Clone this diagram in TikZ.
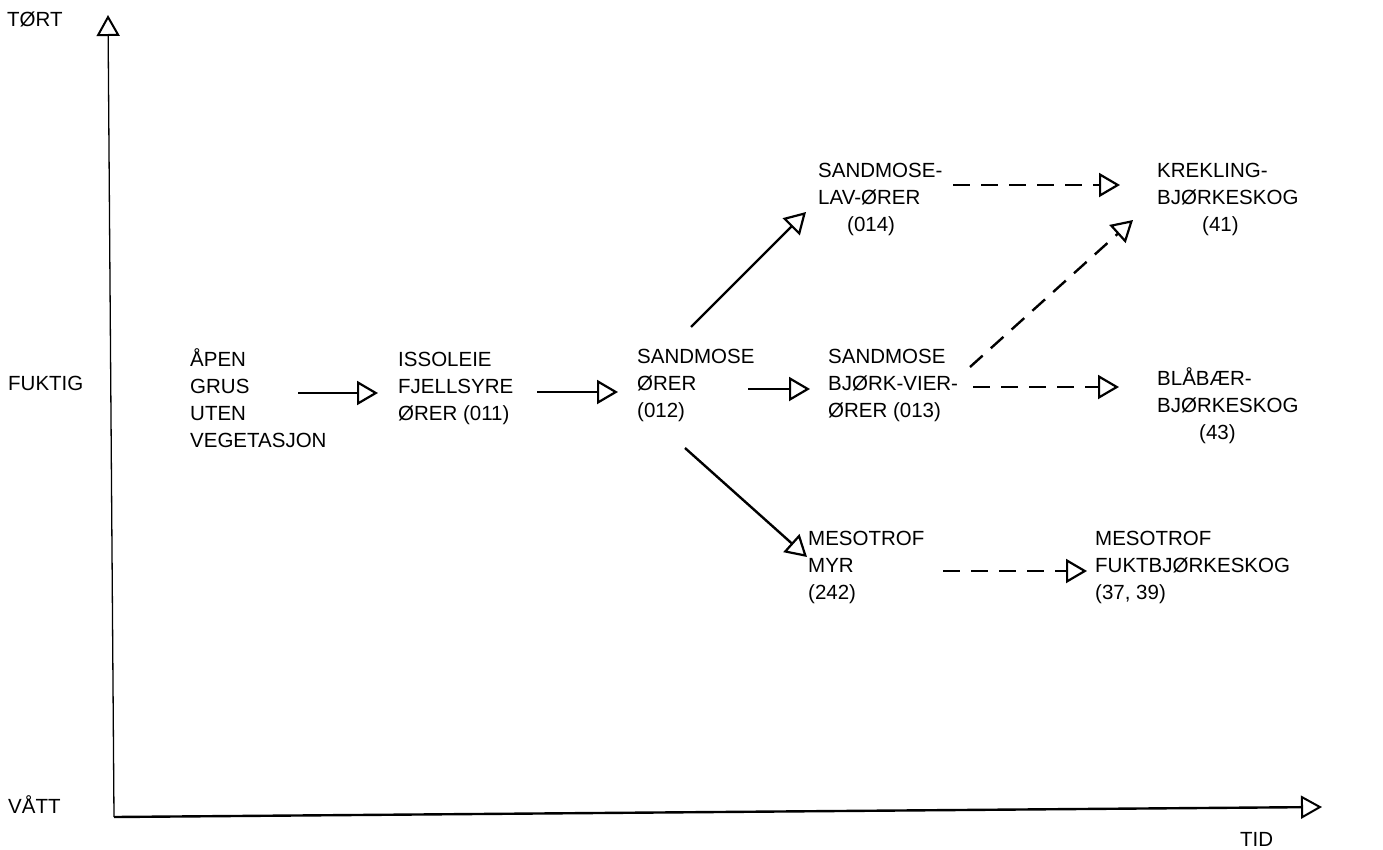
\documentclass[tikz,border=0pt]{standalone}
\usepackage{fontspec}
\setmainfont{Liberation Sans}
\usetikzlibrary{arrows.meta}
\newcommand{\mlines}[1]{\begin{tabular}[t]{@{}l@{}}#1\end{tabular}}
\begin{document}
\begin{tikzpicture}[x=1pt,y=-1pt,
  lbl/.style={inner sep=0pt, anchor=base west, font=\fontsize{20.5}{27}\selectfont},
  arr/.style={line width=2.4pt, -{Triangle[open,length=21pt,width=24pt,line width=2.2pt]}},
  darr/.style={arr, dash pattern=on 17pt off 11pt},
  axis/.style={-{Triangle[open,length=21pt,width=23pt,line width=2pt]}}
]
\useasboundingbox (0,0) rectangle (1383,849);

% axis labels
\node[lbl] (tort) at (7,26) {TØRT};
\node[lbl] (fuktig) at (8,390) {FUKTIG};
\node[lbl] (vatt) at (8,813) {VÅTT};
\node[lbl] (tid) at (1240,846) {TID};

% axes
\coordinate (O) at (114,817);
\coordinate (ytop) at (108,15);
\coordinate (xend) at (1322,807);
\draw[axis, line width=1.3pt] (O) -- (ytop);
\draw[axis, line width=2.4pt] (O) -- (xend);

% nodes
\node[lbl] (apen) at (190,366) {\mlines{ÅPEN\\GRUS\\UTEN\\VEGETASJON}};
\node[lbl] (iss) at (398,366) {\mlines{ISSOLEIE\\FJELLSYRE\\ØRER (011)}};
\node[lbl] (s012) at (637,363) {\mlines{SANDMOSE\\ØRER\\(012)}};
\node[lbl] (s013) at (828,363) {\mlines{SANDMOSE\\BJØRK-VIER-\\ØRER (013)}};
\node[lbl] (s014) at (818,177) {\mlines{SANDMOSE-\\LAV-ØRER\\\hspace*{29pt}(014)}};
\node[lbl] (myr) at (808,545) {\mlines{MESOTROF\\MYR\\(242)}};
\node[lbl] (krek) at (1157,177) {\mlines{KREKLING-\\BJØRKESKOG\\\hspace*{45pt}(41)}};
\node[lbl] (blab) at (1157,385) {\mlines{BLÅBÆR-\\BJØRKESKOG\\\hspace*{42pt}(43)}};
\node[lbl] (fukt) at (1095,545) {\mlines{MESOTROF\\FUKTBJØRKESKOG\\(37, 39)}};

% solid transitions
\draw[arr] ([shift={(108,27)}]apen.base west) -- ([shift={(-20,27)}]iss.base west);
\draw[arr] ([shift={(139,26)}]iss.base west) -- ([shift={(-19,29)}]s012.base west);
\draw[arr] ([shift={(111,26)}]s012.base west) -- ([shift={(-18,26)}]s013.base west);
\draw[arr] ([shift={(54,-36)}]s012.base west) -- ([shift={(-12,35)}]s014.base west);
\draw[arr] ([shift={(48,85)}]s012.base west) -- ([shift={(-1,12)}]myr.base west);

% dashed transitions
\draw[darr] ([shift={(135,8)}]s014.base west) -- ([shift={(-37,8)}]krek.base west);
\draw[darr] ([shift={(142,4)}]s013.base west) -- ([shift={(-24,43)}]krek.base west);
\draw[darr] ([shift={(145,24)}]s013.base west) -- ([shift={(-38,2)}]blab.base west);
\draw[darr] ([shift={(135,26)}]myr.base west) -- ([shift={(-8,26)}]fukt.base west);
\end{tikzpicture}
\end{document}
